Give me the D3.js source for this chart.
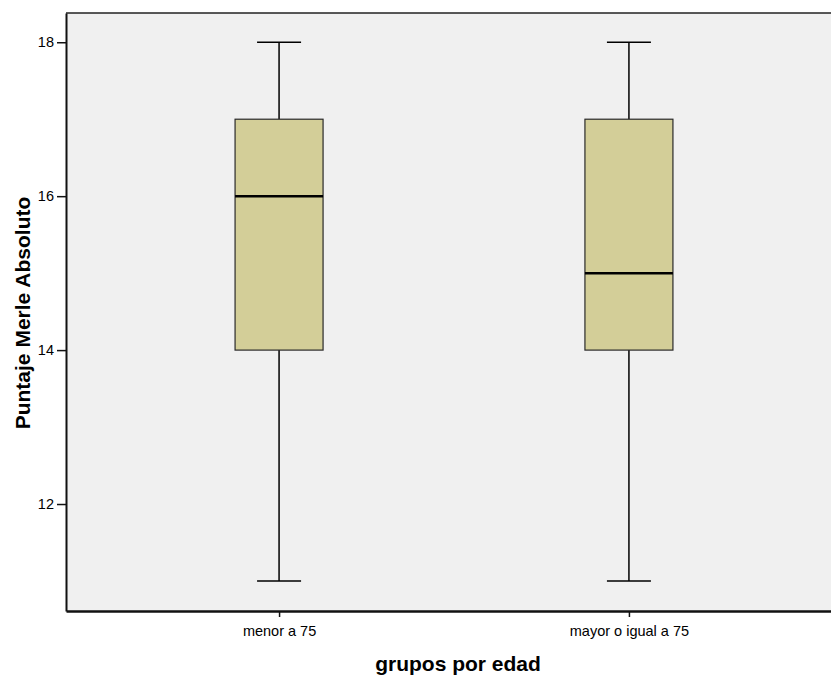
<!DOCTYPE html>
<html>
<head>
<meta charset="utf-8">
<script src="https://cdn.jsdelivr.net/npm/d3@7"></script>
<style>
  html, body { margin: 0; padding: 0; background: #fff; overflow: hidden; }
  svg { display: block; font-family: Arial, "Liberation Sans", sans-serif; }
</style>
</head>
<body>
<script>
const categories = ["menor a 75", "mayor o igual a 75"];
const mins    = [11, 11];
const q1s     = [14, 14];
const medians = [16, 15];
const q3s     = [17, 17];
const maxs    = [18, 18];
const yTicks  = [12, 14, 16, 18];

const W = 831, H = 677;
const margin = { left: 66, top: 13, right: -11, bottom: 66 };
const plotRight = W - margin.right;
const plotBottom = H - margin.bottom;
const FONT = "Arial, 'Liberation Sans', sans-serif";

const svg = d3.select("body").append("svg").attr("width", W).attr("height", H);

const x = d3.scalePoint().domain(categories).range([margin.left, plotRight]).padding(0.609);
const y = d3.scaleLinear().domain([10.61, 18.38]).range([plotBottom, margin.top]);

// plot background
svg.append("rect")
  .attr("x", margin.left).attr("y", margin.top)
  .attr("width", plotRight - margin.left).attr("height", plotBottom - margin.top)
  .attr("fill", "#f0f0f0");

const data = categories.map((c, i) => ({ c, min: mins[i], q1: q1s[i], med: medians[i], q3: q3s[i], max: maxs[i] }));
const boxW = 88, capW = 44;

const g = svg.append("g");
data.forEach(d => {
  const cx = x(d.c);
  g.append("line").attr("x1", cx).attr("x2", cx).attr("y1", y(d.max)).attr("y2", y(d.q3))
    .attr("stroke", "#000").attr("stroke-width", 1.5);
  g.append("line").attr("x1", cx).attr("x2", cx).attr("y1", y(d.q1)).attr("y2", y(d.min))
    .attr("stroke", "#000").attr("stroke-width", 1.5);
  g.append("line").attr("x1", cx - capW / 2).attr("x2", cx + capW / 2).attr("y1", y(d.max)).attr("y2", y(d.max))
    .attr("stroke", "#000").attr("stroke-width", 1.5);
  g.append("line").attr("x1", cx - capW / 2).attr("x2", cx + capW / 2).attr("y1", y(d.min)).attr("y2", y(d.min))
    .attr("stroke", "#000").attr("stroke-width", 1.5);
  g.append("rect").attr("x", cx - boxW / 2).attr("y", y(d.q3))
    .attr("width", boxW).attr("height", y(d.q1) - y(d.q3))
    .attr("fill", "#d3ce98").attr("stroke", "#2a2a2a").attr("stroke-width", 1.2);
  g.append("line").attr("x1", cx - boxW / 2).attr("x2", cx + boxW / 2).attr("y1", y(d.med)).attr("y2", y(d.med))
    .attr("stroke", "#000").attr("stroke-width", 2.5);
});

// top frame line
svg.append("line").attr("x1", margin.left).attr("x2", W).attr("y1", margin.top).attr("y2", margin.top)
  .attr("stroke", "#222").attr("stroke-width", 1.5);

// Y axis
const yAxis = svg.append("g").attr("transform", `translate(${margin.left},0)`)
  .call(d3.axisLeft(y).tickValues(yTicks).tickSize(9).tickSizeOuter(0).tickPadding(3).tickFormat(d3.format("d")));
yAxis.select(".domain").attr("stroke", "#111").attr("stroke-width", 2);
yAxis.selectAll(".tick line").attr("stroke", "#111").attr("stroke-width", 1.5);
yAxis.selectAll(".tick text").attr("fill", "#000").style("font-size", "14.5px").style("font-family", FONT);

// X axis
const xAxis = svg.append("g").attr("transform", `translate(0,${plotBottom})`)
  .call(d3.axisBottom(x).tickSize(6).tickSizeOuter(0).tickPadding(9));
xAxis.select(".domain").attr("stroke", "#111").attr("stroke-width", 2.5);
xAxis.selectAll(".tick line").attr("stroke", "#111").attr("stroke-width", 1.5);
xAxis.selectAll(".tick text").attr("fill", "#000").style("font-size", "14.5px").style("font-family", FONT);

// Titles
svg.append("text")
  .attr("transform", `translate(30,313) rotate(-90)`)
  .attr("text-anchor", "middle")
  .style("font-size", "21px").style("font-weight", "bold").style("font-family", FONT)
  .text("Puntaje Merle Absoluto");

svg.append("text")
  .attr("x", 458).attr("y", 671)
  .attr("text-anchor", "middle")
  .style("font-size", "21px").style("font-weight", "bold").style("font-family", FONT)
  .text("grupos por edad");
</script>
</body>
</html>
